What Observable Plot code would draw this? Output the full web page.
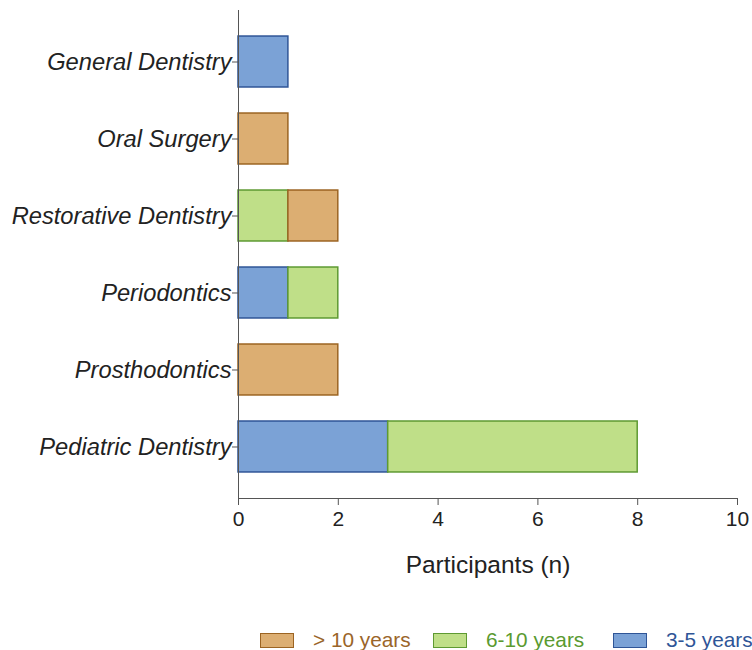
<!DOCTYPE html>
<html><head><meta charset="utf-8">
<script src="https://cdn.jsdelivr.net/npm/d3@7"></script>
<script src="https://cdn.jsdelivr.net/npm/@observablehq/plot@0.6"></script>
<style>
body{margin:0;background:#fff;font-family:"Liberation Sans",Arial,sans-serif;}
#legend{position:relative;height:48px;font-size:20.8px;}
.item{position:absolute;top:26px;display:flex;align-items:center;white-space:nowrap;}
.sw{width:32px;height:13px;border:1.5px solid;margin-right:19px;}
</style></head><body>
<div id="chart"></div>
<div id="legend"></div>
<script>
const categories = ["General Dentistry","Oral Surgery","Restorative Dentistry","Periodontics","Prosthodontics","Pediatric Dentistry"];
const seriesNames = ["3-5 years","6-10 years","> 10 years"];
const v35 = [1,0,0,1,0,3];
const v610 = [0,0,1,1,0,5];
const v10 = [0,1,1,0,2,0];
const xTicks = [0,2,4,6,8,10];
const fills = ["#7ba2d6","#bfdf88","#dcae72"];
const strokes = ["#2f5597","#5e9a32","#9c6422"];
const textColors = ["#2f5597","#5a9a30","#9a6529"];
const legendOrder = ["> 10 years","6-10 years","3-5 years"];

const rows = [];
[v35, v610, v10].forEach((arr, si) => arr.forEach((v, ci) => {
  if (v > 0) rows.push({category: categories[ci], series: seriesNames[si], value: v});
}));

const chart = Plot.plot({
  width: 752, height: 602,
  marginLeft: 238, marginRight: 15, marginTop: 10, marginBottom: 104,
  style: {fontFamily: '"Liberation Sans", Arial, sans-serif', color: "#222"},
  x: {domain: [0, 10], ticks: xTicks, label: null},
  y: {domain: categories, paddingInner: 0.338, paddingOuter: 0.338, round: false, label: null},
  color: {domain: seriesNames, range: fills},
  marks: [
    Plot.barX(rows, Plot.stackX({
      y: "category", x: "value", fill: "series",
      stroke: d => strokes[seriesNames.indexOf(d.series)],
      strokeWidth: 1.5, order: seriesNames
    })),
    Plot.frame({anchor: "left", stroke: "#555"}),
    Plot.frame({anchor: "bottom", stroke: "#555"}),
    Plot.axisX({ticks: xTicks, tickSize: 7, tickPadding: 6, fontSize: 21, stroke: "#555", label: null}),
    Plot.axisY({tickSize: 6, tickPadding: 1, fontSize: 23.7, fontStyle: "italic", stroke: "#555", label: null}),
    Plot.text(["Participants (n)"], {frameAnchor: "bottom", dy: 74, fontSize: 24.5, fill: "#222", text: d => d})
  ]
});
document.getElementById("chart").appendChild(chart);

const legend = document.getElementById("legend");
const lefts = [260, 433, 613];
legendOrder.forEach((name, i) => {
  const si = seriesNames.indexOf(name);
  const it = document.createElement("div");
  it.className = "item";
  it.style.left = lefts[i] + "px";
  const sw = document.createElement("div");
  sw.className = "sw";
  sw.style.background = fills[si];
  sw.style.borderColor = strokes[si];
  const t = document.createElement("span");
  t.textContent = name;
  t.style.color = textColors[si];
  it.appendChild(sw); it.appendChild(t);
  legend.appendChild(it);
});
</script>
</body></html>
